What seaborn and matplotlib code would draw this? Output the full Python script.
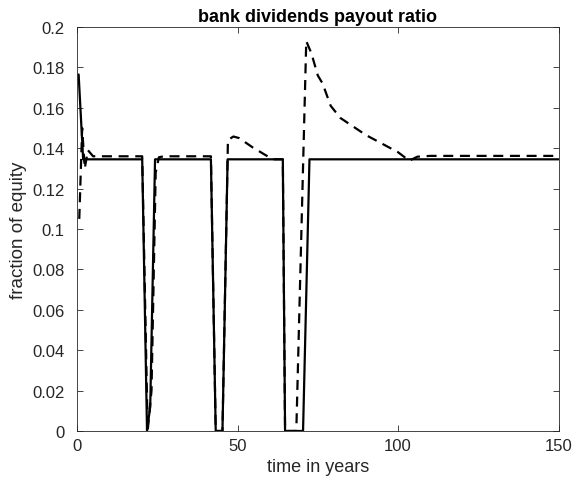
import matplotlib
matplotlib.use("Agg")
import matplotlib.pyplot as plt
import seaborn as sns
from matplotlib.ticker import FuncFormatter

# Solid series (breakpoints)
solid_t = [0.5, 1.9, 20.3, 21.8, 22.8, 24.3, 41.7, 43.2, 45.3, 46.9, 64.1, 64.8, 70.4, 72.4, 150]
solid_y = [0.1765, 0.1345, 0.1345, 0.0, 0.012, 0.1345, 0.1345, 0.0, 0.0, 0.1345, 0.1345, 0.0, 0.0, 0.1345, 0.1345]

# Dashed series
dash_t = [0.7, 1.6, 2.4, 3.4, 5.0, 20.3, 22.0, 23.2, 24.5, 25.5, 27.0, 41.7, 43.2, 45.3,
          47.0, 48.7, 50.5, 54.7, 60.4, 61.5, 64.1, 64.8, 68.3, 71.4, 73.0, 75.0, 76.5,
          79.0, 82.0, 90.0, 100.0, 103.5, 106.0, 110.0, 150.0]
dash_y = [0.105, 0.150, 0.130, 0.139, 0.136, 0.136, 0.0, 0.02, 0.128, 0.1355, 0.136, 0.136, 0.0, 0.0,
          0.144, 0.1458, 0.145, 0.1404, 0.135, 0.1345, 0.1345, 0.0, 0.0, 0.193, 0.187, 0.176, 0.172,
          0.161, 0.155, 0.1465, 0.138, 0.1338, 0.1358, 0.1362, 0.1362]

x_ticks = [0, 50, 100, 150]
y_ticks = [0, 0.02, 0.04, 0.06, 0.08, 0.1, 0.12, 0.14, 0.16, 0.18, 0.2]

sns.set_style("ticks")
plt.rcParams['font.family'] = ['Liberation Sans', 'DejaVu Sans']

fig = plt.figure(figsize=(5.88, 4.89), dpi=100)
ax = fig.add_axes([0.131, 0.1166, 0.819, 0.8261])

sns.lineplot(x=solid_t, y=solid_y, ax=ax, color='black', linewidth=1.6, sort=False,
             estimator=None)
sns.lineplot(x=dash_t, y=dash_y, ax=ax, color='black', linewidth=1.6, sort=False,
             estimator=None, linestyle=(0, (4.5, 3)))

ax.set_xlim(0, 150)
ax.set_ylim(0, 0.2)
ax.set_xticks(x_ticks)
ax.set_yticks(y_ticks)
ax.yaxis.set_major_formatter(FuncFormatter(lambda v, p: '%g' % v))
ax.xaxis.set_major_formatter(FuncFormatter(lambda v, p: '%g' % v))

gray = '#262626'
for s in ax.spines.values():
    s.set_visible(True)
    s.set_color(gray)
    s.set_linewidth(0.6)
ax.tick_params(direction='in', top=True, right=True, length=4, width=0.6,
               color=gray, labelcolor=gray, labelsize=12)
ax.tick_params(axis='y', pad=9)
ax.tick_params(axis='x', pad=5)

ax.set_xlabel('time in years', fontsize=13, color=gray, labelpad=4)
ax.set_ylabel('fraction of equity', fontsize=13.5, color=gray, labelpad=4)
ax.set_title('bank dividends payout ratio', fontsize=13, fontweight='bold', color='black', pad=4)

fig.savefig('out.png', dpi=100)
